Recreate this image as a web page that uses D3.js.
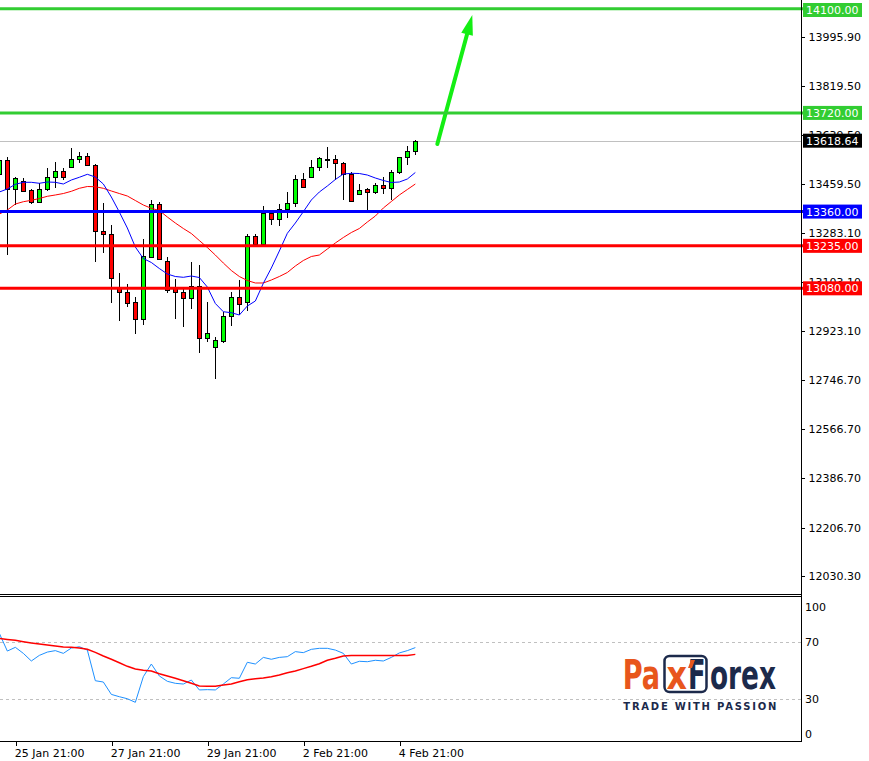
<!DOCTYPE html>
<html><head><meta charset="utf-8">
<script src="https://cdn.jsdelivr.net/npm/d3@7"></script>
<style>
body{margin:0;background:#fff;}
svg{display:block;}
text{font-family:"DejaVu Sans",sans-serif;}
</style>
</head><body>
<svg id="chart" width="869" height="761"></svg>
<script>
// ---------- DATA (H4 candles) ----------
const opens  = [13496.0,13547.1,13441.3,13470.5,13437.6,13396.0,13443.5,13485.1,13506.9,13523.7,13550.7,13561.7,13528.8,13289.1,13278.2,13080.0,13065.4,13028.9,12966.9,13195.3,13386.5,13179.6,13082.2,13065.4,13045.7,13089.5,12897.6,12864.7,12888.8,12978.9,13047.2,13028.9,13269.8,13242.8,13354.8,13331.8,13370.5,13390.2,13477.8,13485.1,13521.5,13553.0,13550.7,13536.1,13498.2,13423.0,13441.3,13430.3,13455.9,13444.9,13503.3,13558.0,13579.9];
const highs  = [13559.1,13558.0,13487.2,13481.4,13442.4,13463.2,13517.9,13539.8,13517.9,13592.0,13577.4,13572.6,13532.0,13391.3,13311.0,13134.7,13094.6,13047.2,13258.8,13402.2,13393.8,13193.1,13112.9,13076.4,13176.0,13163.9,13028.9,12903.4,12993.5,13067.6,13110.3,13277.1,13277.1,13380.3,13365.7,13387.6,13431.4,13494.5,13499.6,13548.2,13560.2,13596.7,13566.4,13540.9,13503.3,13460.6,13447.1,13465.3,13487.2,13511.7,13560.2,13600.4,13621.2];
const lows   = [13489.8,13201.5,13384.0,13430.3,13388.7,13392.4,13436.2,13447.1,13475.2,13520.0,13538.3,13525.0,13177.1,13209.9,13027.5,12961.8,13010.7,12914.4,12947.2,13189.5,13183.3,13064.0,12969.1,12939.9,13005.6,12842.8,12883.0,12748.0,12881.5,12943.6,12982.6,12998.3,13236.9,13236.9,13312.1,13307.3,13335.4,13377.8,13444.9,13481.4,13509.1,13520.1,13475.2,13402.2,13397.5,13423.0,13361.0,13423.0,13423.0,13401.1,13497.1,13531.0,13565.3];
const closes = [13548.2,13441.3,13481.4,13436.2,13394.9,13441.3,13485.1,13506.9,13487.2,13550.7,13562.8,13528.8,13288.0,13277.1,13118.7,13065.4,13027.5,12966.9,13196.8,13386.5,13188.0,13073.8,13065.4,13045.7,13089.5,12897.6,12915.8,12890.3,12977.8,13047.2,13023.8,13270.9,13242.8,13354.8,13331.8,13368.3,13391.3,13477.8,13450.7,13522.6,13555.5,13553.0,13536.1,13498.2,13397.5,13439.8,13430.3,13455.9,13444.9,13503.3,13558.0,13579.9,13618.64];

// moving averages (fast = blue, slow = red)
const maFast = [13431.4,13442.4,13459.5,13466.8,13466.8,13463.2,13467.9,13466.8,13460.6,13475.2,13485.1,13496.0,13486.1,13460.6,13413.2,13358.4,13300.1,13230.7,13188.8,13174.2,13152.3,13132.2,13123.1,13120.2,13124.9,13119.4,13084.8,13024.6,12994.6,12991.0,12982.6,13015.4,13033.7,13098.3,13154.1,13216.1,13280.7,13318.3,13359.5,13402.2,13431.4,13453.3,13477.0,13497.1,13499.6,13498.9,13493.4,13482.5,13473.4,13466.1,13467.9,13478.8,13502.6];
const maSlow = [13351.1,13365.7,13387.6,13396.0,13401.1,13407.7,13415.7,13420.5,13425.9,13434.0,13444.9,13451.5,13450.7,13444.9,13435.1,13425.9,13416.8,13400.4,13384.0,13371.9,13363.9,13340.2,13318.3,13298.2,13280.0,13254.4,13228.9,13201.5,13172.3,13145.0,13123.1,13108.5,13099.4,13099.4,13110.3,13123.1,13137.7,13161.4,13181.5,13196.1,13201.5,13223.4,13245.3,13265.4,13283.6,13298.2,13321.9,13343.8,13373.0,13396.7,13420.5,13440.5,13460.6];

// oscillator window (0..100)
const oscMain   = [75.8,63.5,66.1,61.9,56.6,60.5,62.8,63.8,61.9,65.6,66.5,64.2,42.9,42.0,33.4,31.8,30.4,27.9,45.7,54.5,46.2,42.5,41.1,40.6,43.4,36.5,36.7,36.5,40.6,45.0,44.6,55.7,54.5,59.1,57.8,59.1,59.6,63.1,62.4,64.7,65.4,65.4,64.2,61.9,54.5,56.4,56.1,57.1,56.6,59.1,62.2,63.8,65.9];
const oscSignal = [72.3,71.6,71.0,70.0,69.1,68.4,67.7,67.0,66.3,66.1,65.6,64.7,62.6,60.1,57.8,55.4,52.9,51.0,50.1,49.7,47.8,46.2,44.6,42.9,41.1,39.2,39.0,39.0,39.9,40.6,42.2,43.6,44.3,44.8,45.7,46.9,48.5,49.7,51.3,52.9,54.7,57.1,58.5,60.1,60.5,60.5,60.5,60.5,60.5,60.5,60.5,60.5,61.2];

// axes
const priceTicks = [13995.90,13819.50,13639.50,13459.50,13283.10,13103.10,12923.10,12746.70,12566.70,12386.70,12206.70,12030.30];
const timeTickIndex = [2,14,26,38,50];
const timeLabels = ["25 Jan 21:00","27 Jan 21:00","29 Jan 21:00","2 Feb 21:00","4 Feb 21:00"];
const oscTicks = [100,70,30,0];
const oscLevels = [70,30];

// horizontal levels
const levelValues = [14100.00,13720.00,13360.00,13235.00,13080.00];
const levelKinds  = ["target","target","pivot","support","support"];
const bidPrice = 13618.64;

// forecast arrow (bar index, price)
const arrowFrom = [54.75,13606.6];
const arrowTo   = [59.12,14077.3];

// ---------- DRAWING ----------
const svg = d3.select("#chart");
const W = 869, H = 761;
const axisX = 801.5;
const mainBottom = 594.5, subTop = 596.5, subBottom = 741.5;

const x = d3.scaleLinear().domain([0,52]).range([-0.67,415.33]);
const y = d3.scaleLinear().domain([12030.30,13995.90]).range([576,37.3]);
const yo = d3.scaleLinear().domain([0,100]).range([742.5,598.5]);

const levelColor = {target:"#32cd32",pivot:"#0000ff",support:"#ff0000"};

const defs = svg.append("defs");
defs.append("clipPath").attr("id","clipMain").append("rect").attr("x",0).attr("y",0).attr("width",axisX).attr("height",mainBottom);
defs.append("clipPath").attr("id","clipSub").append("rect").attr("x",0).attr("y",subTop+0.5).attr("width",axisX).attr("height",subBottom-subTop-1);

svg.append("rect").attr("width",W).attr("height",H).attr("fill","#fff");

const gMain = svg.append("g").attr("clip-path","url(#clipMain)");

// bid line
gMain.append("line").attr("x1",0).attr("x2",axisX).attr("y1",Math.round(y(bidPrice))+0.5).attr("y2",Math.round(y(bidPrice))+0.5)
  .attr("stroke","#c0c0c0").attr("stroke-width",1).attr("shape-rendering","crispEdges");

// candles
const candles = d3.range(opens.length).map(i=>({i,o:opens[i],h:highs[i],l:lows[i],c:closes[i]}));
const cg = gMain.append("g").attr("shape-rendering","crispEdges");
cg.selectAll("line.wick").data(candles).join("line").attr("class","wick")
  .attr("x1",d=>Math.round(x(d.i))+0.5).attr("x2",d=>Math.round(x(d.i))+0.5)
  .attr("y1",d=>Math.round(y(d.h))).attr("y2",d=>Math.round(y(d.l)))
  .attr("stroke","#000").attr("stroke-width",1);
cg.selectAll("rect.body").data(candles).join("rect").attr("class","body")
  .attr("x",d=>Math.round(x(d.i))-2+0.5)
  .attr("y",d=>Math.round(y(Math.max(d.o,d.c)))+0.5)
  .attr("width",4)
  .attr("height",d=>Math.max(1,Math.round(y(Math.min(d.o,d.c)))-Math.round(y(Math.max(d.o,d.c)))))
  .attr("fill",d=>d.c>=d.o?"#00ff00":"#ff0000")
  .attr("stroke","#000").attr("stroke-width",1);

// moving averages
const maLine = d3.line().x((d,i)=>x(i)).y(d=>y(d));
gMain.append("path").attr("d",maLine(maSlow)).attr("fill","none").attr("stroke","#ff0000").attr("stroke-width",1);
gMain.append("path").attr("d",maLine(maFast)).attr("fill","none").attr("stroke","#0000ff").attr("stroke-width",1);

// levels
levelValues.forEach((v,k)=>{
  svg.append("line").attr("x1",0).attr("x2",axisX+2).attr("y1",y(v)).attr("y2",y(v))
    .attr("stroke",levelColor[levelKinds[k]]).attr("stroke-width",3);
});

// arrow
(function(){
  const x0=x(arrowFrom[0]), y0=y(arrowFrom[1]), x1=x(arrowTo[0]), y1=y(arrowTo[1]);
  const ang=Math.atan2(y1-y0,x1-x0), headL=20, headW=6;
  const bx=x1-headL*Math.cos(ang), by=y1-headL*Math.sin(ang);
  const col="#14ee14";
  gMain.append("line").attr("x1",x0).attr("y1",y0).attr("x2",bx).attr("y2",by)
    .attr("stroke",col).attr("stroke-width",4).attr("stroke-linecap","round");
  const px=-Math.sin(ang), py=Math.cos(ang);
  gMain.append("path").attr("d",`M${x1},${y1}L${bx+px*headW},${by+py*headW}L${bx-px*headW},${by-py*headW}Z`).attr("fill",col);
})();

// price axis
const pa = svg.append("g").attr("transform",`translate(${axisX},0)`)
  .call(d3.axisRight(y).tickValues(priceTicks).tickFormat(d3.format(".2f")).tickSize(3).tickPadding(4));
pa.select(".domain").remove();
pa.selectAll("line").attr("stroke","#000").attr("shape-rendering","crispEdges");
pa.selectAll("text").attr("font-family","DejaVu Sans").attr("font-size",11).attr("fill","#000");

// level boxes + bid box
function box(v,fill){
  const cy = Math.max(y(v),10);
  svg.append("rect").attr("x",803).attr("y",cy-7).attr("width",59).attr("height",14).attr("fill",fill);
  svg.append("text").attr("x",806).attr("y",cy).attr("dy","0.36em").attr("font-size",11).attr("fill","#fff").text(d3.format(".2f")(v));
}
levelValues.forEach((v,k)=>box(v,levelColor[levelKinds[k]]));
box(bidPrice,"#000");

// oscillator window
const gSub = svg.append("g").attr("clip-path","url(#clipSub)");
oscLevels.forEach(v=>{
  gSub.append("line").attr("x1",0).attr("x2",axisX).attr("y1",Math.round(yo(v))+0.5).attr("y2",Math.round(yo(v))+0.5)
    .attr("stroke","#c0c0c0").attr("stroke-dasharray","3,3").attr("shape-rendering","crispEdges");
});
const oscLine = d3.line().x((d,i)=>x(i)).y(d=>yo(d));
gSub.append("path").attr("d",oscLine(oscMain)).attr("fill","none").attr("stroke","#1e90ff").attr("stroke-width",1);
gSub.append("path").attr("d",oscLine(oscSignal)).attr("fill","none").attr("stroke","#ff0000").attr("stroke-width",1.5);

oscTicks.forEach(v=>{
  const ty = Math.min(Math.max(yo(v),607),734);
  svg.append("text").attr("x",805).attr("y",ty).attr("dy","0.36em").attr("font-size",11).attr("fill","#000").text(v);
});

// frame lines
const fr = svg.append("g").attr("stroke","#000").attr("stroke-width",1).attr("shape-rendering","crispEdges");
fr.append("line").attr("x1",axisX).attr("x2",axisX).attr("y1",0).attr("y2",subBottom);
fr.append("line").attr("x1",0).attr("x2",axisX).attr("y1",mainBottom).attr("y2",mainBottom);
fr.append("line").attr("x1",0).attr("x2",axisX).attr("y1",subTop).attr("y2",subTop);
fr.append("line").attr("x1",0).attr("x2",axisX).attr("y1",subBottom).attr("y2",subBottom);

// time axis
const ta = svg.append("g").attr("transform",`translate(0,${subBottom})`)
  .call(d3.axisBottom(x).tickValues(timeTickIndex).tickFormat((d,k)=>timeLabels[k]).tickSize(4).tickPadding(3));
ta.select(".domain").remove();
ta.selectAll("line").attr("stroke","#000").attr("shape-rendering","crispEdges")
  .attr("transform",function(){return "translate(0.5,0)";});
ta.selectAll("text").attr("font-family","DejaVu Sans").attr("font-size",11).attr("fill","#000")
  .attr("text-anchor","start").attr("dx",-1).attr("y",8);

// ---------- logo ----------
const logo = svg.append("g");
const orange="#e8561c", navy="#1c2a4b";
logo.append("text").attr("x",622.7).attr("y",689).attr("font-family","Lato").attr("font-weight",700)
  .attr("font-size",40).attr("fill",orange).attr("textLength",37.5).attr("lengthAdjust","spacingAndGlyphs").text("Pa");
logo.append("rect").attr("x",664.5).attr("y",656).attr("width",42).attr("height",36).attr("rx",5)
  .attr("fill","none").attr("stroke",navy).attr("stroke-width",2.5);
logo.append("text").attr("x",666.5).attr("y",689).attr("font-family","Lato").attr("font-weight",700)
  .attr("font-size",40).attr("fill",orange).attr("textLength",20.5).attr("lengthAdjust","spacingAndGlyphs").text("x");
logo.append("text").attr("x",688).attr("y",689).attr("font-family","Lato").attr("font-weight",700)
  .attr("font-size",40).attr("fill",navy).attr("textLength",17.5).attr("lengthAdjust","spacingAndGlyphs").text("F");
logo.append("path").attr("d","M688,668L691,660L695,660L692,668Z").attr("fill",orange);
logo.append("text").attr("x",710).attr("y",689).attr("font-family","Lato").attr("font-weight",700)
  .attr("font-size",40).attr("fill",navy).attr("textLength",66).attr("lengthAdjust","spacingAndGlyphs").text("orex");
logo.append("text").attr("x",623.3).attr("y",710).attr("font-family","Lato").attr("font-weight",700)
  .attr("font-size",10).attr("fill",navy).attr("textLength",153).attr("lengthAdjust","spacing").text("TRADE WITH PASSION");
</script>
</body></html>
